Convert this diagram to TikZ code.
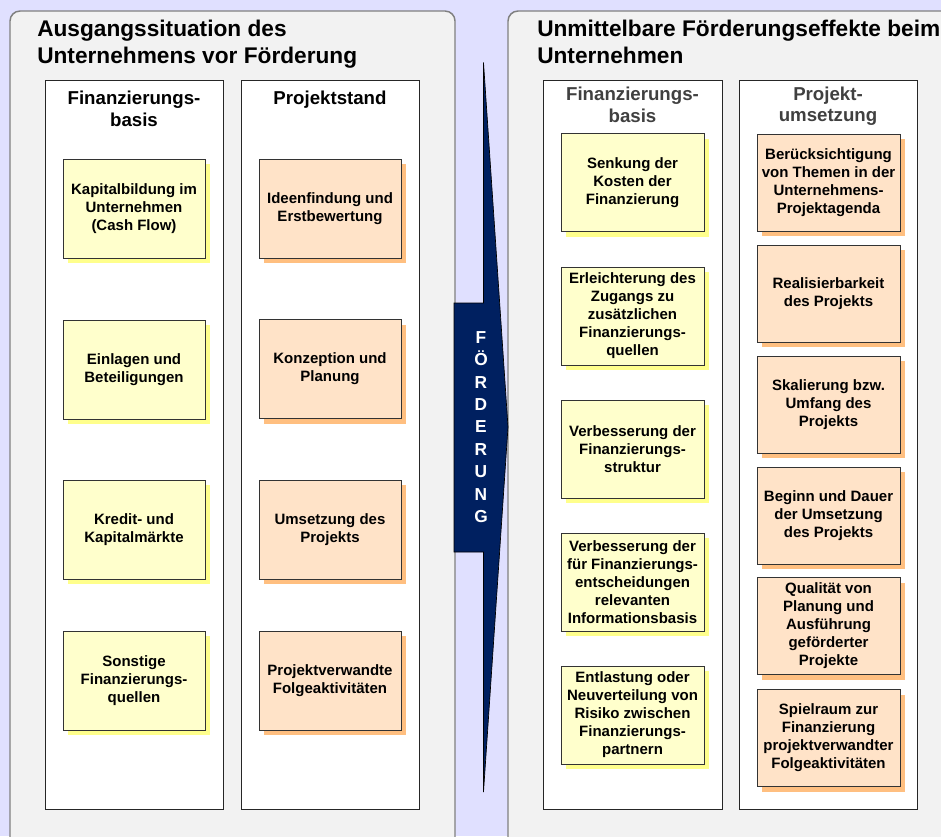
\documentclass[tikz,border=0pt]{standalone}
\usepackage{fontspec}
\setmainfont{Liberation Sans}
\usetikzlibrary{shadows}
\definecolor{bglav}{HTML}{E0E0FF}
\definecolor{panelfill}{HTML}{F2F2F2}
\definecolor{panelline}{HTML}{808080}
\definecolor{colline}{HTML}{262626}
\definecolor{boxline}{HTML}{333333}
\definecolor{yfill}{HTML}{FFFFCC}
\definecolor{yshadow}{HTML}{FFFF8C}
\definecolor{ofill}{HTML}{FFE3C8}
\definecolor{oshadow}{HTML}{FFBF80}
\definecolor{arrowblue}{HTML}{002060}
\definecolor{headgray}{HTML}{404040}
\tikzset{
  panel/.style={fill=panelfill, draw=panelline, line width=1.1pt, rounded corners=7.5pt},
  column/.style={fill=white, draw=colline, line width=0.75pt},
  titletext/.style={inner sep=0pt, anchor=base west, font=\fontsize{17pt}{20.25pt}\selectfont\bfseries},
  headtext/.style={inner sep=0pt, anchor=base, font=\fontsize{14pt}{16.5pt}\selectfont\bfseries},
  basebox/.style={draw=boxline, line width=0.75pt, align=center, inner sep=2pt,
    font=\fontsize{11.25pt}{13.5pt}\selectfont\bfseries},
  ybox/.style={basebox, fill=yfill,
    drop shadow={shadow xshift=4pt, shadow yshift=-4pt, fill=yshadow, opacity=1}},
  obox/.style={basebox, fill=ofill,
    drop shadow={shadow xshift=4pt, shadow yshift=-4pt, fill=oshadow, opacity=1}},
  leftsize/.style={minimum width=106.5pt, minimum height=74.25pt},
  rsizea/.style={minimum width=107.25pt, minimum height=73.5pt},
  rsizeb/.style={minimum width=107.25pt, minimum height=72.75pt},
  arrowshape/.style={fill=arrowblue, draw=black, line width=0.5pt, line join=miter},
}
\begin{document}
\begin{tikzpicture}[x=0.75pt, y=-0.75pt]
\useasboundingbox (0,0) rectangle (941,836);
\clip (0,0) rectangle (941,836);
\fill[bglav] (0,0) rectangle (941,836);

% panels
\draw[panel] (10,11) rectangle (455,900);
\draw[panel] (508,11) rectangle (990,900);

% titles
\node[titletext] (lt1) at (37,36) {Ausgangssituation des};
\node[titletext] (lt2) at (37,63) {Unternehmens vor Förderung};
\node[titletext] (rt1) at (537,36) {Unmittelbare Förderungseffekte beim};
\node[titletext] (rt2) at (537,63) {Unternehmen};

% white columns
\draw[column] (45,80) rectangle (223,809);
\draw[column] (241,80) rectangle (419,809);
\draw[column] (543,80) rectangle (722,809);
\draw[column] (739,80) rectangle (917,809);

% column headings
\node[headtext] (lh1a) at (134,104) {Finanzierungs-};
\node[headtext] (lh1b) at (134,126) {basis};
\node[headtext] (lh2) at (330,104) {Projektstand};
\node[headtext, text=headgray] (rh1a) at (632.5,100) {Finanzierungs-};
\node[headtext, text=headgray] (rh1b) at (632.5,122) {basis};
\node[headtext, text=headgray] (rh2a) at (828,100.5) {Projekt-};
\node[headtext, text=headgray] (rh2b) at (828,121.5) {umsetzung};

% left panel, column 1
\node[ybox, leftsize] (la1) at (134,208.5) {Kapitalbildung im\\Unternehmen\\(Cash Flow)};
\node[ybox, leftsize] (la2) at (134,369.5) {Einlagen und\\Beteiligungen};
\node[ybox, leftsize] (la3) at (134,529.5) {Kredit- und\\Kapitalmärkte};
\node[ybox, leftsize] (la4) at (134,680.5) {Sonstige\\Finanzierungs-\\quellen};

% left panel, column 2
\node[obox, leftsize] (lb1) at (330,208.5) {Ideenfindung und\\Erstbewertung};
\node[obox, leftsize] (lb2) at (330,369) {Konzeption und\\Planung};
\node[obox, leftsize] (lb3) at (330,529.5) {Umsetzung des\\Projekts};
\node[obox, leftsize] (lb4) at (330,680.5) {Projektverwandte\\Folgeaktivitäten};

% right panel, column 1
\node[ybox, rsizea] (ra1) at (632.5,182.5) {Senkung der\\Kosten der\\Finanzierung};
\node[ybox, rsizea] (ra2) at (632.5,316) {Erleichterung des\\Zugangs zu\\zusätzlichen\\Finanzierungs-\\quellen};
\node[ybox, rsizea] (ra3) at (632.5,449) {Verbesserung der\\Finanzierungs-\\struktur};
\node[ybox, rsizea] (ra4) at (632.5,582) {Verbesserung der\\für Finanzierungs-\\entscheidungen\\relevanten\\Informationsbasis};
\node[ybox, rsizea] (ra5) at (632.5,715) {Entlastung oder\\Neuverteilung von\\Risiko zwischen\\Finanzierungs-\\partnern};

% right panel, column 2
\node[obox, rsizeb] (rb1) at (828.5,182.5) {Berücksichtigung\\von Themen in der\\Unternehmens-\\Projektagenda};
\node[obox, rsizeb] (rb2) at (828.5,293.5) {Realisierbarkeit\\des Projekts};
\node[obox, rsizeb] (rb3) at (828.5,404.5) {Skalierung bzw.\\Umfang des\\Projekts};
\node[obox, rsizeb] (rb4) at (828.5,515.5) {Beginn und Dauer\\der Umsetzung\\des Projekts};
\node[obox, rsizeb] (rb5) at (828.5,626) {Qualität von\\Planung und\\Ausführung\\geförderter\\Projekte};
\node[obox, rsizeb] (rb6) at (828.5,738) {Spielraum zur\\Finanzierung\\projektverwandter\\Folgeaktivitäten};

% Förderung arrow
\draw[arrowshape] (454,303) -- (483.5,303) -- (483.5,62.5) -- (508,427)
  -- (483.5,792) -- (483.5,552) -- (454,552) -- cycle;
\node[inner sep=0pt, align=center, text=white,
  font=\fontsize{13pt}{16.8pt}\selectfont\bfseries] (foerd) at (481,427)
  {F\\Ö\\R\\D\\E\\R\\U\\N\\G};
\end{tikzpicture}
\end{document}
